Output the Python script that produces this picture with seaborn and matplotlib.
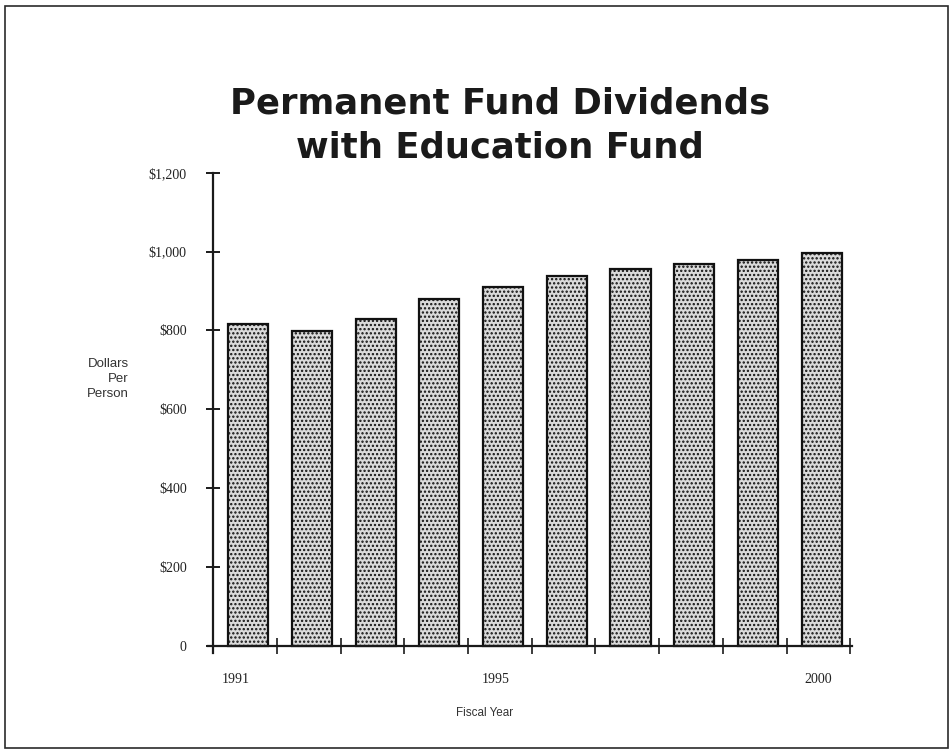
import matplotlib
matplotlib.use("Agg")
import matplotlib.pyplot as plt
import matplotlib.patches as mpatches
import seaborn as sns
import pandas as pd

# Dividend per person by fiscal year
years = ["1991", "1992", "1993", "1994", "1995", "1996", "1997", "1998", "1999", "2000"]
dividends = [816, 798, 829, 880, 909, 938, 955, 968, 979, 997]

labelled_years = ["1991", "1995", "2000"]
y_ticks = [0, 200, 400, 600, 800, 1000, 1200]
y_tick_labels = ["0", "$200", "$400", "$600", "$800", "$1,000", "$1,200"]

title_lines = ["Permanent Fund Dividends", "with Education Fund"]
y_title = "Dollars\nPer\nPerson"
x_title = "Fiscal Year"

sns.set_style("white")
plt.rcParams["text.parse_math"] = False
plt.rcParams["hatch.color"] = "#555555"
plt.rcParams["hatch.linewidth"] = 1.1

W, H = 953, 752
fig = plt.figure(figsize=(W / 100, H / 100), dpi=100)

# axes box placed in pixel terms
left_px, right_px = 208.0, 851.7
top_px, bottom_px = 172.7, 653.4
ax = fig.add_axes([left_px / W, 1 - bottom_px / H,
                   (right_px - left_px) / W, (bottom_px - top_px) / H])

df = pd.DataFrame({"year": years, "dividend": dividends})
sns.barplot(data=df, x="year", y="dividend", order=years, ax=ax,
            width=0.63, color="#d8d8d8", edgecolor="#111111",
            linewidth=1.6, saturation=1)
for bar in ax.patches:
    bar.set_hatch("....")
    bar.set_facecolor("#dadada")

ax.set_xlim(-0.63, 9.47)
ax.set_ylim(-20, 1200)

ink = "#1a1a1a"
for side in ["top", "right"]:
    ax.spines[side].set_visible(False)
ax.spines["left"].set_position(("data", -0.55))
ax.spines["bottom"].set_position(("data", 0))
for side in ["left", "bottom"]:
    ax.spines[side].set_color(ink)
    ax.spines[side].set_linewidth(1.6)

# y axis ticks crossing the axis line
ax.set_yticks(y_ticks)
ax.set_yticklabels(y_tick_labels, family="Liberation Serif", fontsize=10, color="#222222")
ax.tick_params(axis="y", which="major", direction="inout", length=10,
               width=1.4, color=ink, pad=14, left=True)

# x axis: labels under selected years, small ticks between bars
pos = {y: i for i, y in enumerate(years)}
label_offsets = [-0.19, -0.12, -0.06]
ax.set_xticks([pos[y] + o for y, o in zip(labelled_years, label_offsets)])
ax.set_xticklabels(labelled_years, family="Liberation Serif", fontsize=10, color="#222222")
ax.tick_params(axis="x", which="major", length=0, pad=20)
ax.set_xticks([i + 0.45 for i in range(len(years))], minor=True)
ax.tick_params(axis="x", which="minor", direction="inout", length=12,
               width=1.2, color=ink, bottom=True)
ax.set_xlabel("")
ax.set_ylabel("")

# titles and axis captions
fig.text(500 / W, 1 - 103 / H, title_lines[0], ha="center", va="center",
         family="DejaVu Sans", fontweight="bold", fontsize=25.5, color="#1a1a1a")
fig.text(500 / W, 1 - 147 / H, title_lines[1], ha="center", va="center",
         family="DejaVu Sans", fontweight="bold", fontsize=25.5, color="#1a1a1a")
fig.text(129 / W, 1 - 379 / H, y_title, ha="right", va="center", multialignment="right",
         family="Liberation Sans", fontsize=9.5, linespacing=1.3, color="#333333")
fig.text(485 / W, 1 - 713 / H, x_title, ha="center", va="center",
         family="Liberation Sans", fontsize=8.4, color="#333333")

# page frame
frame = mpatches.Rectangle((5 / W, 1 - 748 / H), 943 / W, 742 / H,
                           transform=fig.transFigure, fill=False,
                           edgecolor="#2a2a2a", linewidth=1.2)
fig.patches.append(frame)

fig.savefig("out.png", dpi=100, facecolor="white")
